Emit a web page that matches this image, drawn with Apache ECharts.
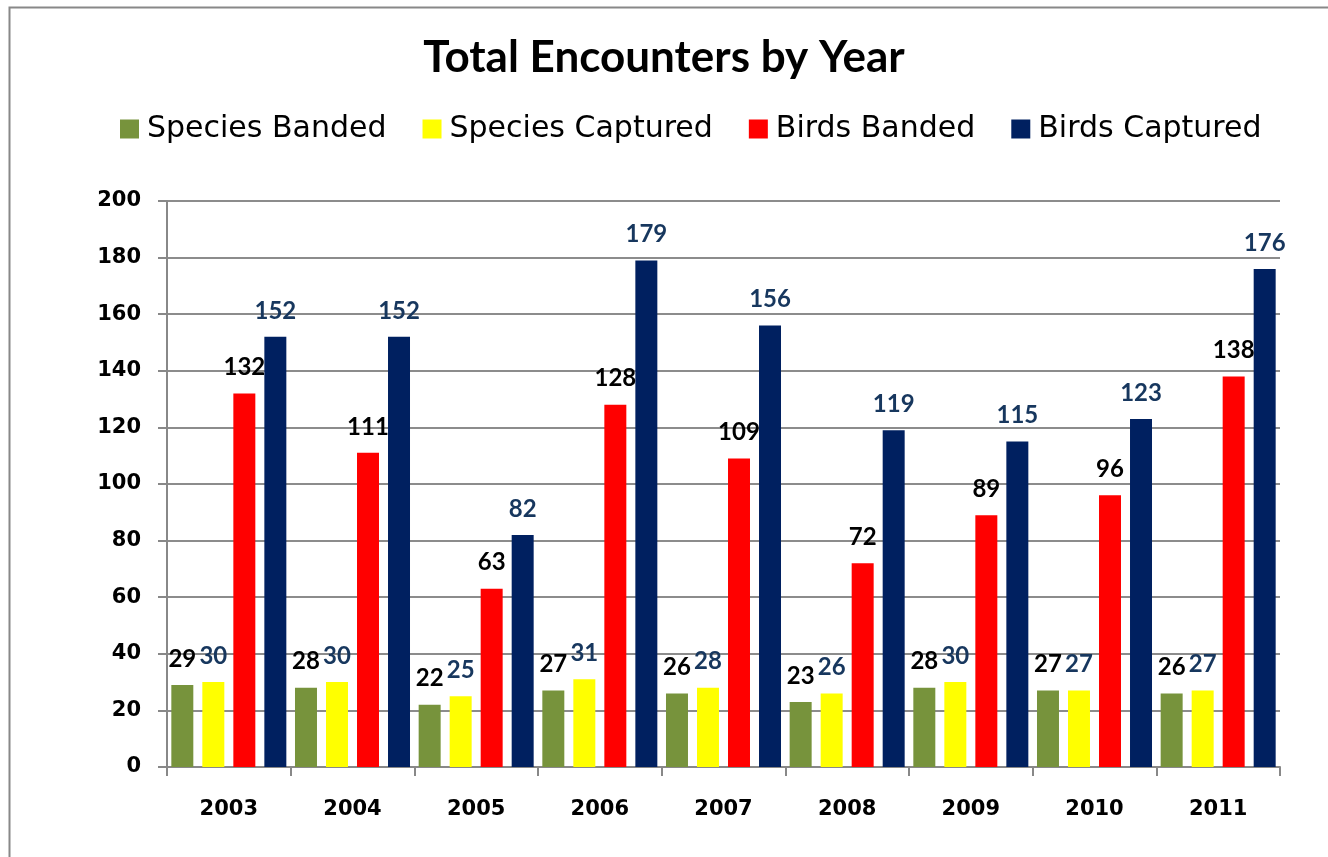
<!DOCTYPE html>
<html>
<head>
<meta charset="utf-8">
<script src="https://cdn.jsdelivr.net/npm/echarts@6/dist/echarts.min.js"></script>
<style>
html,body{margin:0;padding:0;background:#fff;}
#chart{width:1328px;height:857px;}
</style>
</head>
<body>
<div id="chart"></div>
<script>
const categories = ['2003','2004','2005','2006','2007','2008','2009','2010','2011'];
const speciesBanded = [29,28,22,27,26,23,28,27,26];
const speciesCaptured = [30,30,25,31,28,26,30,27,27];
const birdsBanded = [132,111,63,128,109,72,89,96,138];
const birdsCaptured = [152,152,82,179,156,119,115,123,176];
const seriesNames = ['Species Banded','Species Captured','Birds Banded','Birds Captured'];

const FONT = 'Lato, "Open Sans", sans-serif';
const WIDE = '"DejaVu Sans", Verdana, sans-serif';
const colors = ['#77933C','#FFFF00','#FF0000','#002060'];
const labelColors = ['#000000','#17375E','#000000','#17375E'];
const dataSets = [speciesBanded, speciesCaptured, birdsBanded, birdsCaptured];

const chart = echarts.init(document.getElementById('chart'));
chart.setOption({
  animation: false,
  backgroundColor: '#fff',
  graphic: [{
    type: 'rect', left: 7, top: 5,
    shape: {width: 1320, height: 860},
    style: {fill: 'none', stroke: '#888', lineWidth: 2}
  }],
  title: {
    text: 'Total Encounters by Year',
    left: 'center', top: 31,
    textStyle: {fontFamily: FONT, fontSize: 44, fontWeight: 'bold', color: '#000'}
  },
  legend: {
    top: 109, left: 115,
    itemWidth: 19, itemHeight: 19, itemGap: 36,
    icon: 'rect',
    textStyle: {fontFamily: WIDE, fontSize: 30, color: '#000', padding: [0,0,0,3]},
    data: seriesNames
  },
  grid: {left: 167, right: 48, top: 201, bottom: 90},
  xAxis: {
    type: 'category', data: categories,
    axisLine: {lineStyle: {color: '#888', width: 2}},
    axisTick: {show: true, length: 9, lineStyle: {color: '#888', width: 2}},
    axisLabel: {fontFamily: WIDE, fontSize: 21, fontWeight: 'bold', color: '#000', margin: 32}
  },
  yAxis: {
    type: 'value', min: 0, max: 200, interval: 20,
    axisLine: {show: true, lineStyle: {color: '#888', width: 2}},
    axisTick: {show: true, length: 9, lineStyle: {color: '#888', width: 2}},
    splitLine: {lineStyle: {color: '#8c8c8c', width: 2}},
    axisLabel: {fontFamily: WIDE, fontSize: 21, fontWeight: 'bold', color: '#000', margin: 26}
  },
  series: dataSets.map((d, i) => ({
    name: seriesNames[i],
    type: 'bar',
    data: d,
    barGap: '41%',
    barCategoryGap: '7%',
    itemStyle: {color: colors[i]},
    label: {
      show: true, position: 'top', distance: 14,
      fontFamily: FONT, fontSize: 24, fontWeight: 'bold', color: labelColors[i]
    }
  }))
});
</script>
</body>
</html>
